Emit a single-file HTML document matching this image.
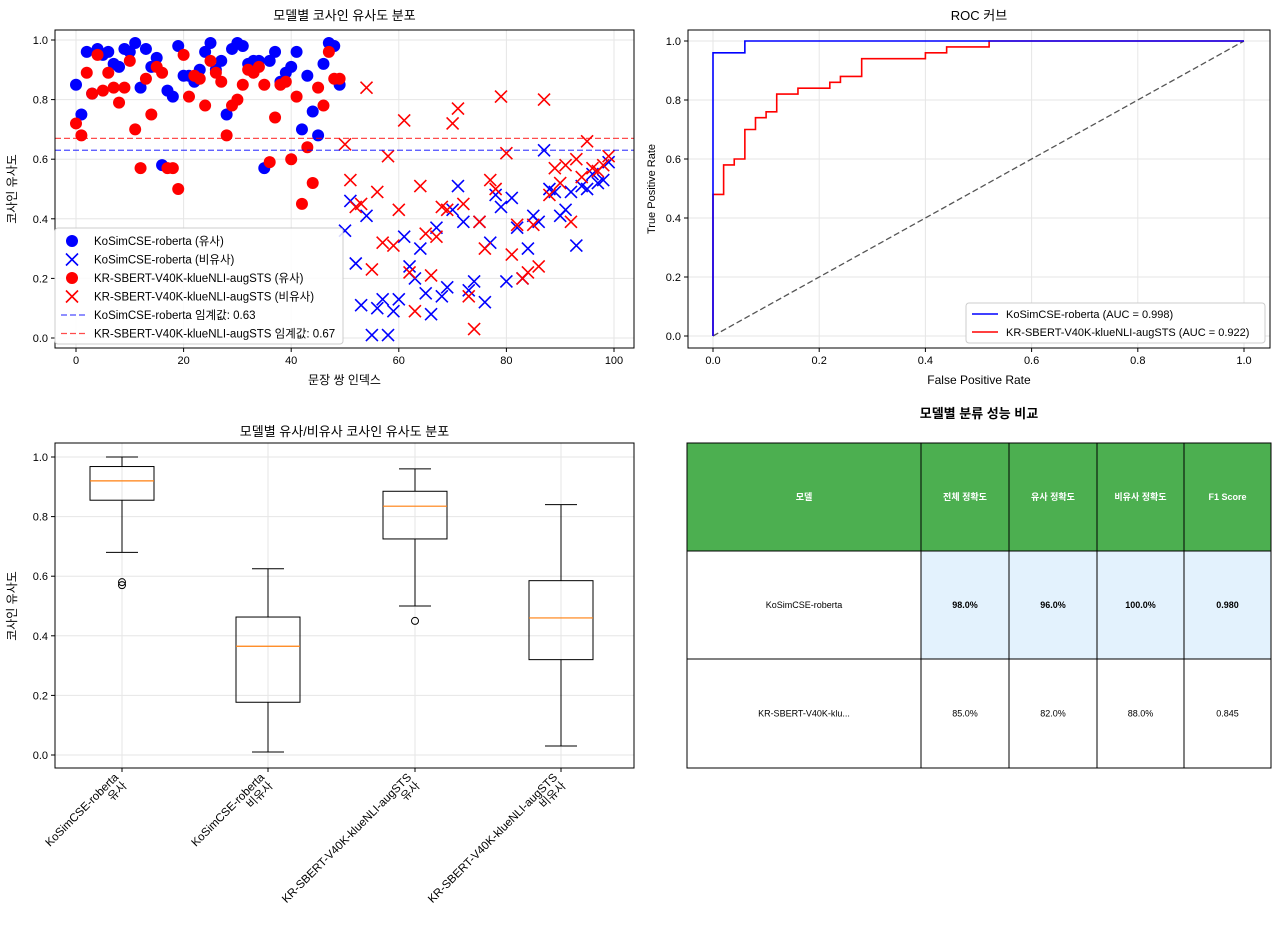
<!DOCTYPE html>
<html><head><meta charset="utf-8">
<style>
body{margin:0;background:#fff;}
svg text{font-family:"Liberation Sans","Noto Sans CJK KR",sans-serif;fill:#000;}
</style></head>
<body>
<svg id="fig" width="1280" height="926" xmlns="http://www.w3.org/2000/svg">
<rect width="1280" height="926" fill="#fff"/>
<g id="g1"></g>
<g id="g2"></g>
<g id="g3"></g>
<g id="g4"></g>
</svg>
<script>
// ---------- data ----------
const koSim = [0.85,0.75,0.96,0.82,0.97,0.95,0.96,0.92,0.91,0.97,0.96,0.99,0.84,0.97,0.91,0.94,0.58,0.83,0.81,0.98,0.88,0.88,0.86,0.90,0.96,0.99,0.90,0.93,0.75,0.97,0.99,0.98,0.92,0.93,0.93,0.57,0.93,0.96,0.86,0.89,0.91,0.96,0.70,0.88,0.76,0.68,0.92,0.99,0.98,0.85];
const krSim = [0.72,0.68,0.89,0.82,0.95,0.83,0.89,0.84,0.79,0.84,0.93,0.70,0.57,0.87,0.75,0.91,0.89,0.57,0.57,0.50,0.95,0.81,0.88,0.87,0.78,0.93,0.89,0.86,0.68,0.78,0.80,0.85,0.90,0.89,0.91,0.85,0.59,0.74,0.85,0.86,0.60,0.81,0.45,0.64,0.52,0.84,0.78,0.96,0.87,0.87];
const koDis = [0.36,0.46,0.25,0.11,0.41,0.01,0.10,0.13,0.01,0.09,0.13,0.34,0.24,0.20,0.30,0.15,0.08,0.37,0.14,0.17,0.43,0.51,0.39,0.16,0.19,0.39,0.12,0.32,0.48,0.44,0.19,0.47,0.37,0.20,0.30,0.41,0.39,0.63,0.50,0.49,0.41,0.43,0.49,0.31,0.51,0.50,0.55,0.52,0.53,0.59];
const krDis = [0.65,0.53,0.44,0.45,0.84,0.23,0.49,0.32,0.61,0.31,0.43,0.73,0.22,0.09,0.51,0.35,0.21,0.34,0.44,0.43,0.72,0.77,0.45,0.14,0.03,0.39,0.30,0.53,0.50,0.81,0.62,0.28,0.38,0.20,0.22,0.38,0.24,0.80,0.48,0.57,0.52,0.58,0.39,0.60,0.54,0.66,0.57,0.56,0.58,0.61];
const thresholds = [0.63,0.67];
const rocKoX = [0,0,0,0.06,0.06,1];
const rocKoY = [0,0.48,0.96,0.96,1,1];
const rocKrX = [0,0,0.02,0.02,0.04,0.04,0.06,0.06,0.08,0.08,0.10,0.10,0.12,0.12,0.16,0.16,0.22,0.22,0.24,0.24,0.28,0.28,0.40,0.40,0.44,0.44,0.52,0.52,1];
const rocKrY = [0,0.48,0.48,0.58,0.58,0.60,0.60,0.70,0.70,0.74,0.74,0.76,0.76,0.82,0.82,0.84,0.84,0.86,0.86,0.88,0.88,0.94,0.94,0.96,0.96,0.98,0.98,1,1];
const boxLabels = [["KoSimCSE-roberta","유사"],["KoSimCSE-roberta","비유사"],["KR-SBERT-V40K-klueNLI-augSTS","유사"],["KR-SBERT-V40K-klueNLI-augSTS","비유사"]];
const boxLo = [0.68,0.01,0.50,0.03];
const boxQ1 = [0.855,0.177,0.725,0.32];
const boxMed = [0.92,0.365,0.835,0.46];
const boxQ3 = [0.968,0.463,0.885,0.585];
const boxHi = [1.0,0.625,0.96,0.84];
const boxFliers = [[0.57,0.58],[],[0.45],[]];
const yTicks = [0,0.2,0.4,0.6,0.8,1.0];
const xTicksScatter = [0,20,40,60,80,100];
const rocTicks = [0,0.2,0.4,0.6,0.8,1.0];
const tableHead = ["모델","전체 정확도","유사 정확도","비유사 정확도","F1 Score"];
const tableRow1 = ["KoSimCSE-roberta","98.0%","96.0%","100.0%","0.980"];
const tableRow2 = ["KR-SBERT-V40K-klu...","85.0%","82.0%","88.0%","0.845"];

const NS="http://www.w3.org/2000/svg";
function el(parent,tag,attrs,text){const e=document.createElementNS(NS,tag);for(const k in attrs)e.setAttribute(k,attrs[k]);if(text!==undefined)e.textContent=text;parent.appendChild(e);return e;}
function frame(g,L,T,R,B){const r=el(g,'rect',{x:L,y:T,width:R-L,height:B-T,fill:'none',stroke:'#000','stroke-width':1});}

// ---------- chart 1: scatter ----------
(function(){
const g=document.getElementById('g1');
const L=55,R=634,T=30,B=348;
const sx=v=>76+v*5.38, sy=v=>338-v*298;
xTicksScatter.forEach(t=>{const l=el(g,'line',{x1:sx(t),x2:sx(t),y1:T,y2:B,stroke:'#e6e6e6'});
 el(g,'line',{x1:sx(t),x2:sx(t),y1:B,y2:B+4,stroke:'#000'});
 const tx=el(g,'text',{x:sx(t),y:B+16,'font-size':11,'text-anchor':'middle'},String(t));});
yTicks.forEach(t=>{const l=el(g,'line',{x1:L,x2:R,y1:sy(t),y2:sy(t),stroke:'#e6e6e6'});
 el(g,'line',{x1:L-4,x2:L,y1:sy(t),y2:sy(t),stroke:'#000'});
 const tx=el(g,'text',{x:L-7,y:sy(t)+4,'font-size':11,'text-anchor':'end'},t.toFixed(1));});
function dot(x,y,c,name){const d=el(g,'circle',{cx:sx(x),cy:sy(y),r:6,fill:c});}
function cross(x,y,c,name){const s=6,X=sx(x),Y=sy(y);const p=el(g,'path',{d:`M${X-s},${Y-s}L${X+s},${Y+s}M${X-s},${Y+s}L${X+s},${Y-s}`,stroke:c,'stroke-width':1.6,fill:'none'});}
koSim.forEach((v,i)=>dot(i,v,'#0000ff','ko-similar-point'));
koDis.forEach((v,i)=>cross(50+i,v,'#0000ff','ko-dissimilar-point'));
krSim.forEach((v,i)=>dot(i,v,'#ff0000','kr-similar-point'));
krDis.forEach((v,i)=>cross(50+i,v,'#ff0000','kr-dissimilar-point'));
const th1=el(g,'line',{x1:L,x2:R,y1:sy(thresholds[0]),y2:sy(thresholds[0]),stroke:'#0000ff','stroke-opacity':0.7,'stroke-dasharray':'6,3','stroke-width':1.3});
const th2=el(g,'line',{x1:L,x2:R,y1:sy(thresholds[1]),y2:sy(thresholds[1]),stroke:'#ff0000','stroke-opacity':0.7,'stroke-dasharray':'6,3','stroke-width':1.3});
frame(g,L,T,R,B);
const t=el(g,'text',{x:(L+R)/2,y:20,'font-size':13,'text-anchor':'middle'},'모델별 코사인 유사도 분포');
const xl=el(g,'text',{x:(L+R)/2,y:384,'font-size':12,'text-anchor':'middle'},'문장 쌍 인덱스');
const yl=el(g,'text',{x:0,y:0,'font-size':12,'text-anchor':'middle',transform:'translate(16,189) rotate(-90)'},'코사인 유사도');
const lg=el(g,'g',{});
el(lg,'rect',{x:55,y:228,width:288,height:116,rx:3,fill:'#fff','fill-opacity':0.85,stroke:'#ccc'});
const items=[['dot','#0000ff','KoSimCSE-roberta (유사)'],['x','#0000ff','KoSimCSE-roberta (비유사)'],['dot','#ff0000','KR-SBERT-V40K-klueNLI-augSTS (유사)'],['x','#ff0000','KR-SBERT-V40K-klueNLI-augSTS (비유사)'],['dash','#0000ff','KoSimCSE-roberta 임계값: 0.63'],['dash','#ff0000','KR-SBERT-V40K-klueNLI-augSTS 임계값: 0.67']];
items.forEach((it,i)=>{const y=241+i*18.5;const e=el(lg,'g',{});
 if(it[0]=='dot')el(e,'circle',{cx:72,cy:y,r:6,fill:it[1]});
 else if(it[0]=='x')el(e,'path',{d:`M66,${y-6}L78,${y+6}M66,${y+6}L78,${y-6}`,stroke:it[1],'stroke-width':1.6});
 else el(e,'line',{x1:61,x2:85,y1:y,y2:y,stroke:it[1],'stroke-opacity':0.7,'stroke-dasharray':'6,3','stroke-width':1.3});
 el(e,'text',{x:94,y:y+4,'font-size':11.5},it[2]);});
})();

// ---------- chart 2: ROC ----------
(function(){
const g=document.getElementById('g2');
const L=688,R=1270,T=30,B=348;
const sx=v=>713+v*531, sy=v=>336-v*295;
rocTicks.forEach(t=>{el(g,'line',{x1:sx(t),x2:sx(t),y1:T,y2:B,stroke:'#e6e6e6'});el(g,'line',{x1:sx(t),x2:sx(t),y1:B,y2:B+4,stroke:'#000'});
 const a=el(g,'text',{x:sx(t),y:B+16,'font-size':11,'text-anchor':'middle'},t.toFixed(1));
 el(g,'line',{x1:L,x2:R,y1:sy(t),y2:sy(t),stroke:'#e6e6e6'});el(g,'line',{x1:L-4,x2:L,y1:sy(t),y2:sy(t),stroke:'#000'});
 const b=el(g,'text',{x:L-7,y:sy(t)+4,'font-size':11,'text-anchor':'end'},t.toFixed(1));});
const d=el(g,'line',{x1:sx(0),y1:sy(0),x2:sx(1),y2:sy(1),stroke:'#555','stroke-dasharray':'6,3','stroke-width':1.3});
const p2=el(g,'polyline',{points:rocKrX.map((x,i)=>sx(x)+','+sy(rocKrY[i])).join(' '),fill:'none',stroke:'#ff0000','stroke-width':1.6});
const p1=el(g,'polyline',{points:rocKoX.map((x,i)=>sx(x)+','+sy(rocKoY[i])).join(' '),fill:'none',stroke:'#0000ff','stroke-width':1.6});
frame(g,L,T,R,B);
const t=el(g,'text',{x:(L+R)/2,y:20,'font-size':13,'text-anchor':'middle'},'ROC 커브');
const xl=el(g,'text',{x:(L+R)/2,y:384,'font-size':12,'text-anchor':'middle'},'False Positive Rate');
const yl=el(g,'text',{x:0,y:0,'font-size':11,'text-anchor':'middle',transform:'translate(655,189) rotate(-90)'},'True Positive Rate');
const lg=el(g,'g',{});
el(lg,'rect',{x:966,y:303,width:299,height:40,rx:3,fill:'#fff',stroke:'#ccc'});
[['#0000ff','KoSimCSE-roberta (AUC = 0.998)'],['#ff0000','KR-SBERT-V40K-klueNLI-augSTS (AUC = 0.922)']].forEach((it,i)=>{const y=314+i*18;const e=el(lg,'g',{});
 el(e,'line',{x1:972,x2:998,y1:y,y2:y,stroke:it[0],'stroke-width':1.6});el(e,'text',{x:1006,y:y+4,'font-size':11},it[1]);});
})();

// ---------- chart 3: box ----------
(function(){
const g=document.getElementById('g3');
const L=55,R=634,T=443,B=768;
const sy=v=>755-v*298; const pos=[122,268,415,561];
yTicks.forEach(t=>{el(g,'line',{x1:L,x2:R,y1:sy(t),y2:sy(t),stroke:'#e6e6e6'});el(g,'line',{x1:L-4,x2:L,y1:sy(t),y2:sy(t),stroke:'#000'});
 const b=el(g,'text',{x:L-7,y:sy(t)+4,'font-size':11,'text-anchor':'end'},t.toFixed(1));});
pos.forEach(x=>el(g,'line',{x1:x,x2:x,y1:T,y2:B,stroke:'#e6e6e6'}));
boxLabels.forEach((lab,i)=>{const x=pos[i];const bx=el(g,'g',{});
 el(bx,'line',{x1:x,x2:x,y1:sy(boxHi[i]),y2:sy(boxQ3[i]),stroke:'#000'});
 el(bx,'line',{x1:x,x2:x,y1:sy(boxQ1[i]),y2:sy(boxLo[i]),stroke:'#000'});
 el(bx,'line',{x1:x-16,x2:x+16,y1:sy(boxHi[i]),y2:sy(boxHi[i]),stroke:'#000'});
 el(bx,'line',{x1:x-16,x2:x+16,y1:sy(boxLo[i]),y2:sy(boxLo[i]),stroke:'#000'});
 el(bx,'rect',{x:x-32,y:sy(boxQ3[i]),width:64,height:sy(boxQ1[i])-sy(boxQ3[i]),fill:'none',stroke:'#000'});
 el(bx,'line',{x1:x-32,x2:x+32,y1:sy(boxMed[i]),y2:sy(boxMed[i]),stroke:'#ff7f0e','stroke-width':1.2});
 boxFliers[i].forEach(f=>el(bx,'circle',{cx:x,cy:sy(f),r:3.5,fill:'none',stroke:'#000'}));
 el(g,'line',{x1:x,x2:x,y1:B,y2:B+4,stroke:'#000'});
 const tl=el(g,'text',{'font-size':11.5,'text-anchor':'end',transform:`translate(${x-3},${B+10}) rotate(-45)`});
 el(tl,'tspan',{x:0,dy:0},lab[0]);el(tl,'tspan',{x:0,dy:12},lab[1]);});
frame(g,L,T,R,B);
const t=el(g,'text',{x:(L+R)/2,y:436,'font-size':13,'text-anchor':'middle'},'모델별 유사/비유사 코사인 유사도 분포');
const yl=el(g,'text',{x:0,y:0,'font-size':12,'text-anchor':'middle',transform:'translate(16,606) rotate(-90)'},'코사인 유사도');
})();

// ---------- table ----------
(function(){
const g=document.getElementById('g4');
const cols=[687,921,1009,1097,1184,1271]; const rows=[443,551,659,768];
const t=el(g,'text',{x:979,y:418,'font-size':13,'font-weight':'bold','text-anchor':'middle'},'모델별 분류 성능 비교');
[tableHead,tableRow1,tableRow2].forEach((row,r)=>{row.forEach((txt,c)=>{
 const fill=r==0?'#4caf50':(r==1&&c>0?'#e3f2fd':'#fff');
 const cell=el(g,'g',{});
 el(cell,'rect',{x:cols[c],y:rows[r],width:cols[c+1]-cols[c],height:rows[r+1]-rows[r],fill:fill,stroke:'#000'});
 const bold=(r==0)||(r==1&&c>0);
 el(cell,'text',{x:(cols[c]+cols[c+1])/2,y:(rows[r]+rows[r+1])/2+3,'font-size':9,'text-anchor':'middle','font-weight':bold?'bold':'normal',fill:r==0?'#fff':'#000',style:r==0?'fill:#fff':''},txt);
});});
})();
</script>
</body></html>
